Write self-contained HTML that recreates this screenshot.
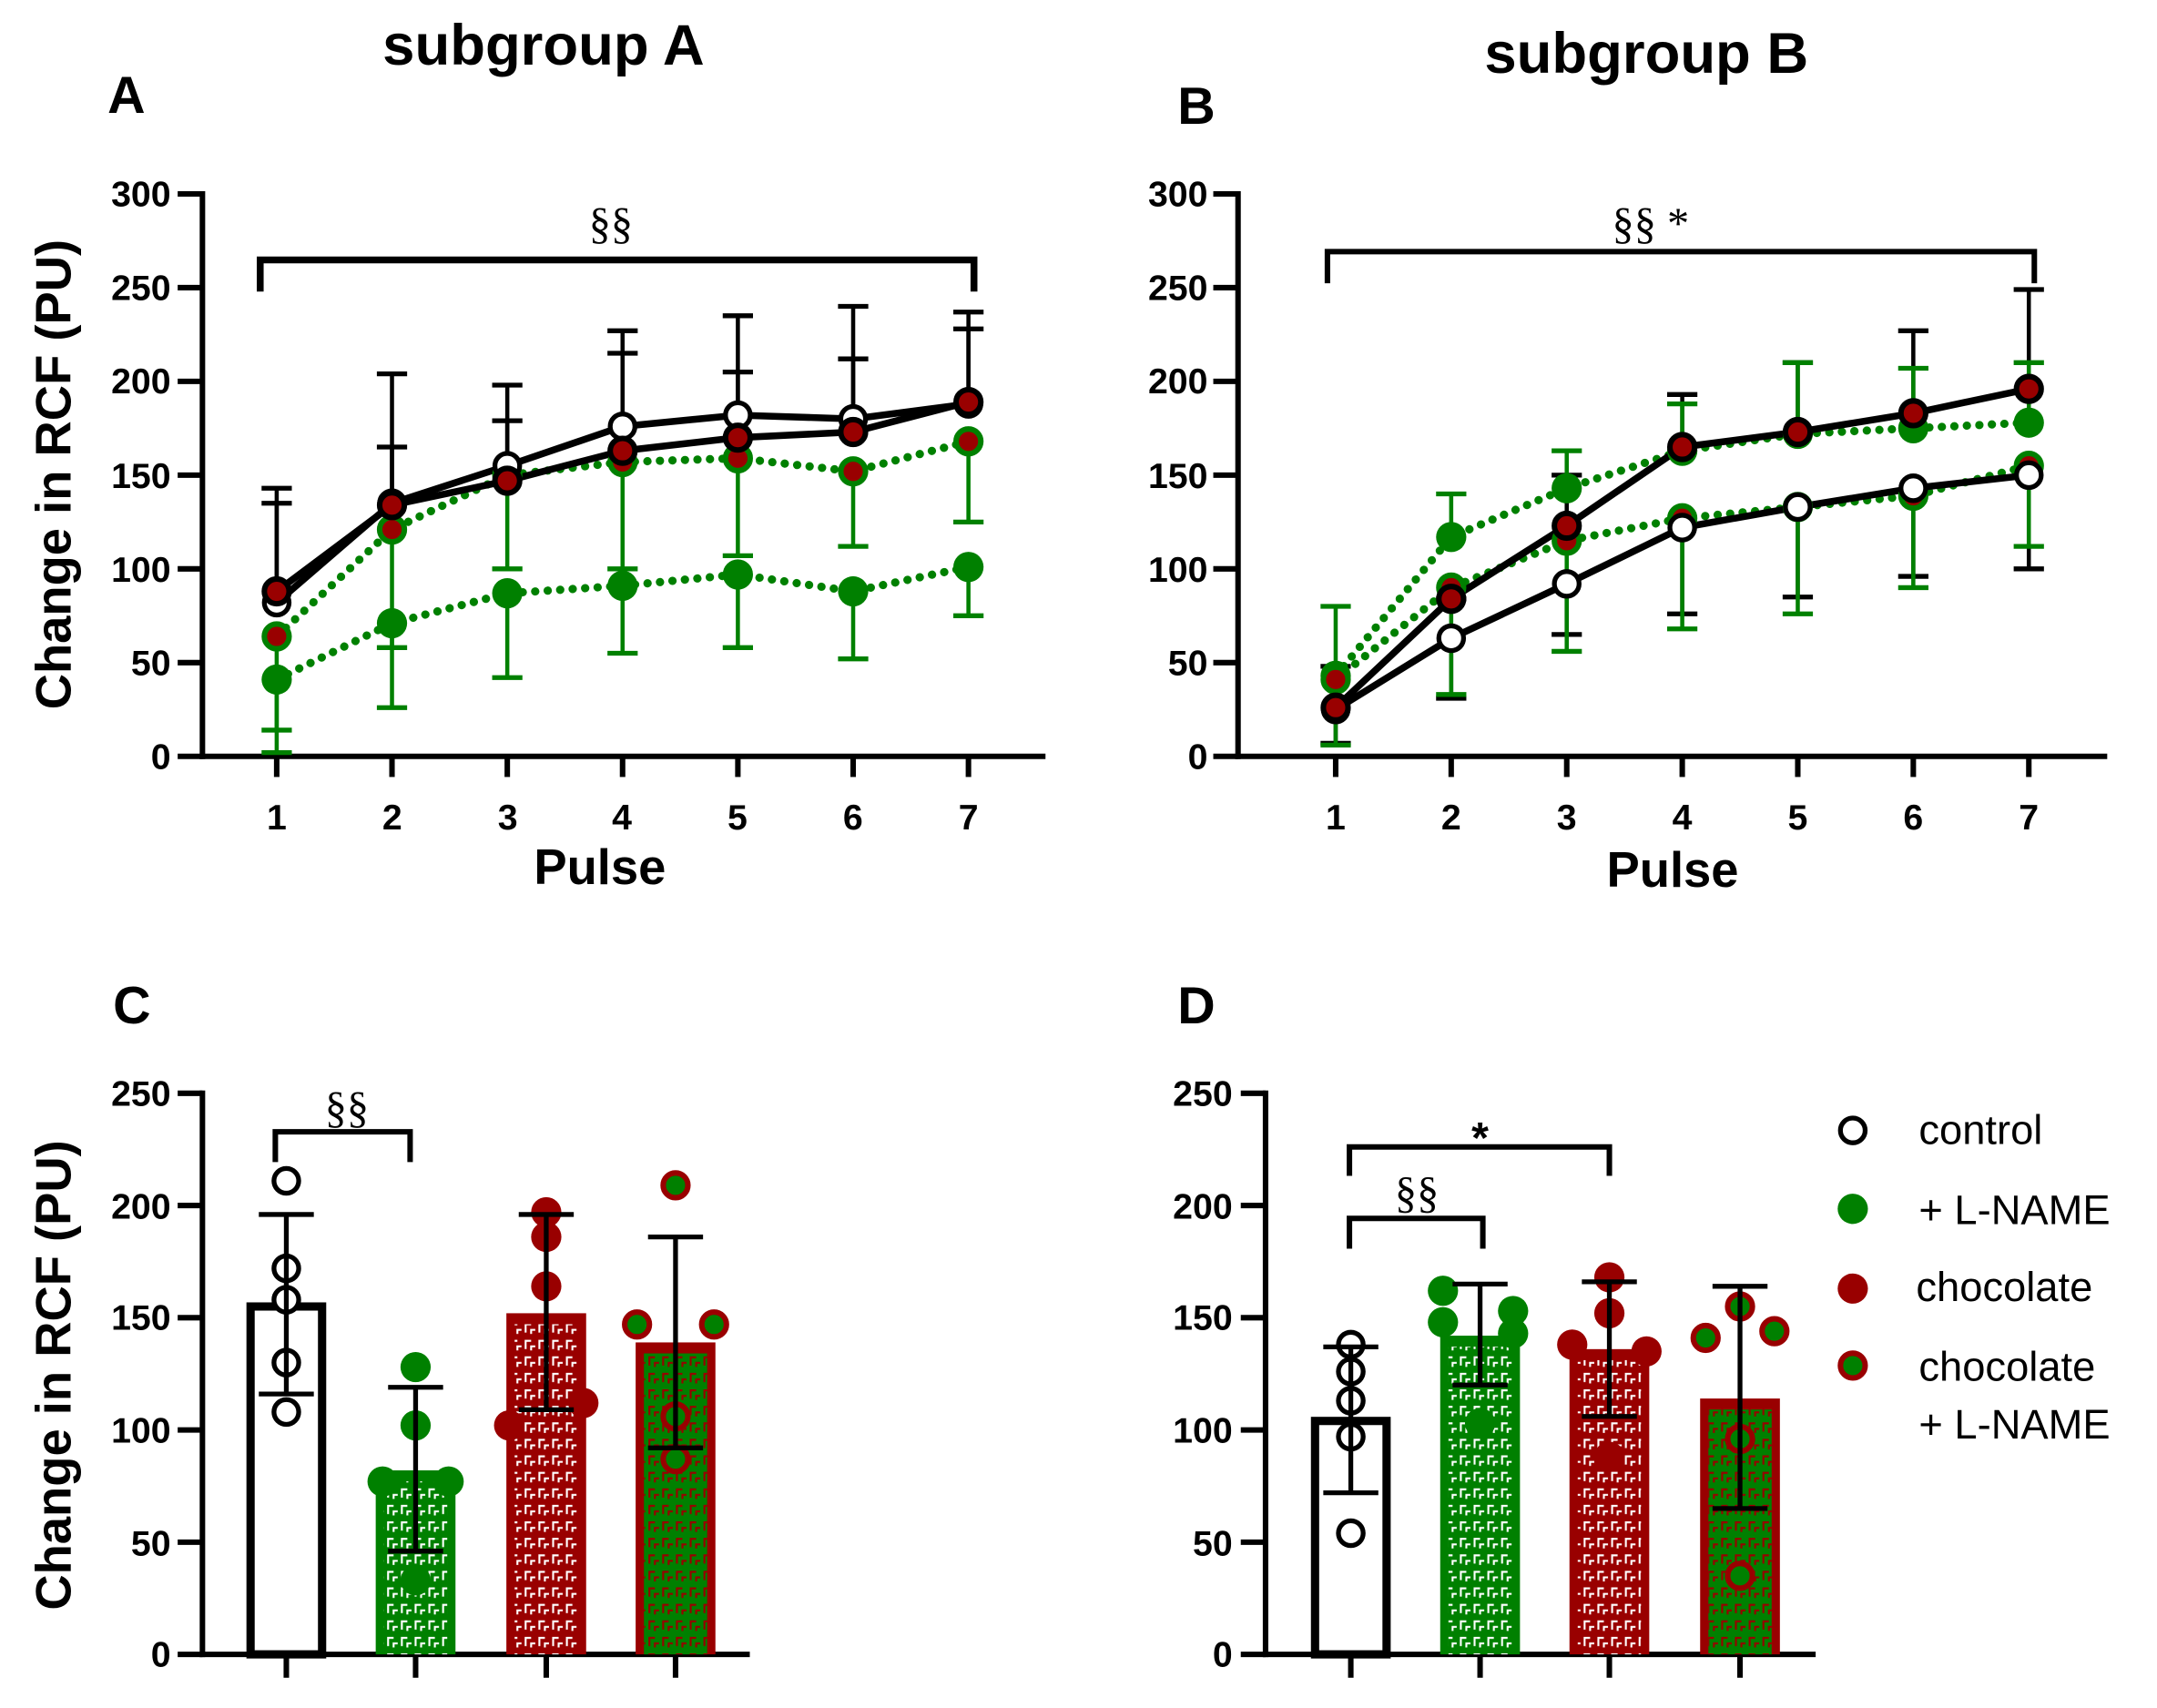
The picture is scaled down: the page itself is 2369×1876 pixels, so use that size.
<!DOCTYPE html>
<html><head><meta charset="utf-8">
<style>
html,body{margin:0;padding:0;background:#fff;}
svg{display:block;}
text{font-family:"Liberation Sans",sans-serif;}
.tk{font-size:26px;font-weight:bold;text-anchor:end;}
.tx{font-size:26px;font-weight:bold;text-anchor:middle;}
.ttl{font-size:42px;font-weight:bold;text-anchor:middle;}
.let{font-size:38px;font-weight:bold;}
.ax{font-size:36px;font-weight:bold;text-anchor:middle;}
.sig{font-size:32px;text-anchor:middle;font-family:"Liberation Serif",serif;}
.lg{font-size:30px;}
</style></head>
<body>
<svg id="s" width="2369" height="1876" viewBox="0 0 1568 1242" xmlns="http://www.w3.org/2000/svg">
<defs>
<pattern id="pw" width="10" height="12" patternUnits="userSpaceOnUse">
<path d="M2 9 V3 H6 M6 10 V7 H9" stroke="#fff" stroke-width="1.4" fill="none"/>
</pattern>
<pattern id="pr" width="10" height="12" patternUnits="userSpaceOnUse">
<path d="M2 9 V3 H6 M6 10 V7 H9" stroke="#990000" stroke-width="1.4" fill="none"/>
</pattern>
</defs>
<text class="ttl" x="395" y="47">subgroup A</text>
<text class="ttl" x="1197" y="53">subgroup B</text>
<text class="let" x="78" y="82">A</text>
<text class="let" x="856" y="90">B</text>
<text class="let" x="82" y="744">C</text>
<text class="let" x="856" y="744">D</text>

<g class="tk">
<text x="124" y="559">0</text><text x="124" y="491">50</text><text x="124" y="423">100</text><text x="124" y="355">150</text><text x="124" y="286">200</text><text x="124" y="218">250</text><text x="124" y="150">300</text>
<text x="878" y="559">0</text><text x="878" y="491">50</text><text x="878" y="423">100</text><text x="878" y="355">150</text><text x="878" y="286">200</text><text x="878" y="218">250</text><text x="878" y="150">300</text>
<text x="124" y="1212">0</text><text x="124" y="1131">50</text><text x="124" y="1049">100</text><text x="124" y="967">150</text><text x="124" y="886">200</text><text x="124" y="804">250</text>
<text x="896" y="1212">0</text><text x="896" y="1131">50</text><text x="896" y="1049">100</text><text x="896" y="967">150</text><text x="896" y="886">200</text><text x="896" y="804">250</text>
</g>
<g class="tx">
<text x="201" y="603">1</text><text x="285" y="603">2</text><text x="369" y="603">3</text><text x="452" y="603">4</text><text x="536" y="603">5</text><text x="620" y="603">6</text><text x="704" y="603">7</text>
<text x="971" y="603">1</text><text x="1055" y="603">2</text><text x="1139" y="603">3</text><text x="1223" y="603">4</text><text x="1307" y="603">5</text><text x="1391" y="603">6</text><text x="1475" y="603">7</text>
</g>
<text class="ax" x="436" y="643">Pulse</text>
<text class="ax" x="1216" y="645">Pulse</text>
<text class="ax" transform="translate(51,345) rotate(-90)">Change in RCF (PU)</text>
<text class="ax" transform="translate(51,1000) rotate(-90)">Change in RCF (PU)</text>
<text class="sig" x="444" y="173">§§</text>
<text class="sig" x="1200" y="173">§§ *</text>
<text class="sig" x="252" y="816">§§</text>
<text class="sig" x="1030" y="878">§§</text>
<text class="sig" x="1076" y="838" style="font-family:'Liberation Sans',sans-serif;font-weight:bold">*</text>

<g class="lg">
<text x="1395" y="832">control</text>
<text x="1395" y="890">+ L-NAME</text>
<text x="1393" y="946">chocolate</text>
<text x="1395" y="1004">chocolate</text>
<text x="1395" y="1046">+ L-NAME</text>
</g>
<g id="g"></g>
</svg>
<script>
const NS="http://www.w3.org/2000/svg",G=document.getElementById('g');
function el(t,a){const e=document.createElementNS(NS,t);for(const k in a)e.setAttribute(k,a[k]);G.appendChild(e);return e;}
function ln(x1,y1,x2,y2,c,w){el('line',{x1,y1,x2,y2,stroke:c,'stroke-width':w});}
const R="#990000",GR="#008000",K="#000";
function mk(x,y,t,r){r=r||10;
 if(t=='o')el('circle',{cx:x,cy:y,r:r-1,fill:'#fff',stroke:K,'stroke-width':3.5});
 if(t=='c')el('circle',{cx:x,cy:y,r:r-1,fill:R,stroke:K,'stroke-width':4});
 if(t=='g')el('circle',{cx:x,cy:y,r:r+1,fill:GR});
 if(t=='gr')el('circle',{cx:x,cy:y,r:r-1,fill:R,stroke:GR,'stroke-width':4});
 if(t=='rg')el('circle',{cx:x,cy:y,r:r-1,fill:GR,stroke:R,'stroke-width':4});
 if(t=='r')el('circle',{cx:x,cy:y,r:r+1,fill:R});
}
function lineAxes(x0,x1,xs){ln(x0,139,x0,552,K,4);ln(x0-2,550,x1,550,K,4);
 for(let i=0;i<=6;i++){const y=550-i*409/6;ln(x0-18,y,x0,y,K,4);}
 xs.forEach(x=>ln(x,550,x,565,K,4));}
const xA=i=>201+i*83.83,xB=i=>971+i*84,yA=v=>550-v*409/300;
lineAxes(147,760,[0,1,2,3,4,5,6].map(xA));
lineAxes(900,1532,[0,1,2,3,4,5,6].map(xB));
function series(xf,vals,errs,dir,col){
 vals.forEach((v,i)=>{const x=xf(i),y=yA(v),e=yA(errs[i]);ln(x,y,x,e,col,3);ln(x-11,e,x+11,e,col,3.5);});
}
function path(xf,vals,col,dash){const d=vals.map((v,i)=>(i?'L':'M')+xf(i)+' '+yA(v)).join('');
 const a={d,fill:'none',stroke:col,'stroke-width':5,'stroke-linejoin':'round'};
 if(dash){a['stroke-dasharray']='0.1 9';a['stroke-linecap']='round';a['stroke-width']=6;}
 el('path',a);}
const Ao=[82,135,155,176,182,180,188],Aoe=[143,204,198,227,235,240,237];
const Ac=[88,134,147,163,170,173,189],Ace=[135,165,179,215,205,212,228];
const Ag=[41,71,87,91,97,88,101],Age=[2,26,42,55,58,52,75];
const Agr=[64,121,150,157,159,152,168],Agre=[14,58,100,100,107,112,125];
series(xA,Ao,Aoe,0,K);series(xA,Ac,Ace,0,K);series(xA,Ag,Age,0,GR);series(xA,Agr,Agre,0,GR);
path(xA,Ag,GR,1);path(xA,Agr,GR,1);path(xA,Ao,K);path(xA,Ac,K);
Ag.forEach((v,i)=>mk(xA(i),yA(v),'g'));Agr.forEach((v,i)=>mk(xA(i),yA(v),'gr'));
Ao.forEach((v,i)=>mk(xA(i),yA(v),'o'));Ac.forEach((v,i)=>mk(xA(i),yA(v),'c'));
const Bo=[25,63,92,122,133,143,150],Boe=[7,31,65,76,85,96,100];
const Bc=[26,84,123,165,173,183,196],Bce=[48,84,150,193,210,227,249];
const Bg=[43,117,143,163,172,175,178],Bge=[80,140,163,188,210,207,210];
const Bgr=[41,90,115,127,133,139,155],Bgre=[6,33,56,68,76,90,112];
series(xB,Bo,Boe,0,K);series(xB,Bc,Bce,0,K);series(xB,Bg,Bge,0,GR);series(xB,Bgr,Bgre,0,GR);
path(xB,Bg,GR,1);path(xB,Bgr,GR,1);path(xB,Bo,K);path(xB,Bc,K);
Bg.forEach((v,i)=>mk(xB(i),yA(v),'g'));Bgr.forEach((v,i)=>mk(xB(i),yA(v),'gr'));
Bo.forEach((v,i)=>mk(xB(i),yA(v),'o'));Bc.forEach((v,i)=>mk(xB(i),yA(v),'c'));
el('path',{d:`M189 212 V189 H708 V212`,fill:'none',stroke:K,'stroke-width':5});
el('path',{d:`M965 206 V183 H1479 V206`,fill:'none',stroke:K,'stroke-width':4});
const yC=v=>1203-v*408/250;
function barAxes(x0,x1,xs){ln(x0,793,x0,1205,K,4);ln(x0-2,1203,x1,1203,K,4);
 for(let i=0;i<=5;i++){const y=1203-i*408/5;ln(x0-18,y,x0,y,K,4);}
 xs.forEach(x=>ln(x,1203,x,1220,K,4));}
function bar(cx,v,kind){const w=58,y=yC(v);
 if(kind=='o'){el('rect',{x:cx-w/2+3,y:y,width:w-6,height:1203-y,fill:'#fff',stroke:K,'stroke-width':6});}
 if(kind=='g'){el('rect',{x:cx-w/2,y:y,width:w,height:1203-y,fill:GR});el('rect',{x:cx-w/2+6,y:y+8,width:w-12,height:1195-y,fill:'url(#pw)'});}
 if(kind=='r'){el('rect',{x:cx-w/2,y:y,width:w,height:1203-y,fill:R});el('rect',{x:cx-w/2+6,y:y+8,width:w-12,height:1195-y,fill:'url(#pw)'});}
 if(kind=='rg'){el('rect',{x:cx-w/2,y:y,width:w,height:1203-y,fill:R});el('rect',{x:cx-w/2+6,y:y+8,width:w-12,height:1195-y,fill:GR});el('rect',{x:cx-w/2+6,y:y+8,width:w-12,height:1195-y,fill:'url(#pr)'});}
}
function err(cx,lo,hi){ln(cx,yC(lo),cx,yC(hi),K,3.5);ln(cx-20,yC(lo),cx+20,yC(lo),K,3.5);ln(cx-20,yC(hi),cx+20,yC(hi),K,3.5);}
function pts(cx,arr,t){arr.forEach(p=>mk(cx+p[1],yC(p[0]),t,10));}
barAxes(147,545,[208,302,397,491]);
barAxes(920,1320,[982,1076,1170,1265]);
bar(208,155,'o');bar(302,82,'g');bar(397,152,'r');bar(491,139,'rg');
pts(208,[[211,0],[172,0],[158,0],[130,0],[108,0]],'o');
pts(302,[[128,0],[102,0],[77,-24],[77,24],[33,0]],'g');
pts(397,[[197,0],[186,0],[164,0],[112,27],[102,-27]],'r');
pts(491,[[209,0],[147,-28],[147,28],[106,0],[87,0]],'rg');
err(208,116,196);err(302,46,119);err(397,109,196);err(491,92,186);
bar(982,104,'o');bar(1076,142,'g');bar(1170,136,'r');bar(1265,114,'rg');
pts(982,[[138,0],[126,0],[113,0],[97,0],[54,0]],'o');
pts(1076,[[162,-27],[148,-27],[153,24],[143,24],[103,0]],'g');
pts(1170,[[168,0],[152,0],[138,-27],[135,27],[88,0]],'r');
pts(1265,[[155,0],[141,-25],[144,25],[96,0],[35,0]],'rg');
err(982,72,137);err(1076,120,165);err(1170,106,166);err(1265,65,164);
el('path',{d:`M200 845 V823 H298 V845`,fill:'none',stroke:K,'stroke-width':4});
el('path',{d:`M981 908 V886 H1078 V908`,fill:'none',stroke:K,'stroke-width':4});
el('path',{d:`M981 855 V834 H1170 V855`,fill:'none',stroke:K,'stroke-width':4});
mk(1347,822,'o');mk(1347,879,'g');mk(1347,937,'r');mk(1347,993,'rg');
</script>
</body></html>
